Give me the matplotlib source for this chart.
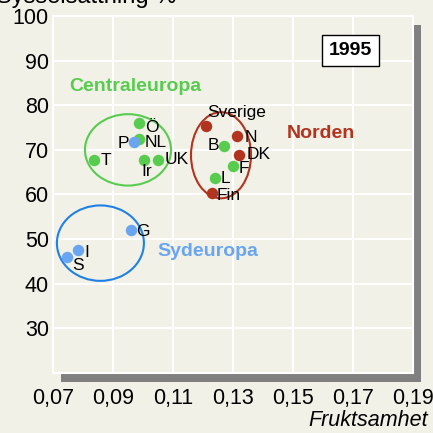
import matplotlib
matplotlib.use("Agg")
import matplotlib.pyplot as plt
from matplotlib.patches import Ellipse, Rectangle

plt.rcParams['font.family'] = ['Liberation Sans', 'DejaVu Sans']

# ---- data ----
central_names = ["Ö", "NL", "T", "Ir", "UK", "B", "F", "L"]
central_x = [0.0987, 0.0987, 0.0837, 0.1003, 0.1050, 0.1270, 0.1300, 0.1240]
central_y = [76.0, 72.4, 67.8, 67.8, 67.8, 70.9, 66.4, 63.8]

norden_names = ["Sverige", "N", "DK", "Fin"]
norden_x = [0.1210, 0.1313, 0.1320, 0.1230]
norden_y = [75.3, 73.1, 68.9, 60.4]

syd_names = ["P", "G", "I", "S"]
syd_x = [0.0970, 0.0960, 0.0784, 0.0748]
syd_y = [71.8, 52.0, 47.5, 46.0]

xticks = [0.07, 0.09, 0.11, 0.13, 0.15, 0.17, 0.19]
xticklabels = ["0,07", "0,09", "0,11", "0,13", "0,15", "0,17", "0,19"]
yticks = [30, 40, 50, 60, 70, 80, 90, 100]

# ellipses: (cx, cy, width, height)
ell_central = (0.0950, 70.0, 0.0287, 16.0)
ell_norden = (0.1260, 68.8, 0.0200, 19.3)
ell_syd = (0.0858, 49.1, 0.0290, 16.9)

# label offsets in pixels (dx, dy up), alignment
label_style = {
    "Ö": (6, -4, 'left'), "NL": (6, -3, 'left'), "T": (7, -1, 'left'),
    "Ir": (3, -12, 'center'), "UK": (7, 0, 'left'), "B": (-5, 0, 'right'),
    "F": (6, -3, 'left'), "L": (6, -1, 'left'),
    "Sverige": (1, 14, 'left'), "N": (8, -1, 'left'), "DK": (8, 0, 'left'),
    "Fin": (5, -3, 'left'),
    "P": (-5, -2, 'right'), "G": (5, -1, 'left'), "I": (6, -2, 'left'),
    "S": (5, -9, 'left'),
}

bg = '#f2f1e7'
green = '#57cc4f'
red = '#b3341e'
blue_pt = '#6aa5f2'
blue_ell = '#1f80e8'

W = H = 433
fig = plt.figure(figsize=(4.33, 4.33), dpi=100, facecolor=bg)
L, R, T, B = 53, 413, 16, 373
ax = fig.add_axes([L / W, 1 - B / H, (R - L) / W, (B - T) / H])
ax.set_facecolor(bg)

# shadow
shadow = Rectangle(((L + 8) / W, 1 - (B + 9) / H), (R - L) / W, (B - T) / H,
                   transform=fig.transFigure, facecolor='#808080',
                   edgecolor='none', zorder=-1)
fig.patches.append(shadow)

ax.set_xlim(0.07, 0.19)
ax.set_ylim(20, 100)
ax.set_xticks(xticks)
ax.set_xticklabels(xticklabels)
ax.set_yticks(yticks)
ax.grid(True, color='white', linewidth=1.5)
ax.set_axisbelow(True)
for s in ax.spines.values():
    s.set_color('white')
    s.set_linewidth(1.5)
ax.tick_params(length=0, labelsize=15.5)
ax.tick_params(axis='x', pad=11)
ax.tick_params(axis='y', pad=3)

for (cx, cy, w, h), col in [(ell_central, green), (ell_norden, red), (ell_syd, blue_ell)]:
    ax.add_patch(Ellipse((cx, cy), w, h, fill=False, edgecolor=col, linewidth=1.5, zorder=2))

ms = 68
ax.scatter(central_x, central_y, s=ms, color=green, zorder=3, linewidths=0)
ax.scatter(norden_x, norden_y, s=ms, color=red, zorder=3, linewidths=0)
ax.scatter(syd_x, syd_y, s=ms, color=blue_pt, zorder=3, linewidths=0)

px2pt = 72 / 100
for names, xs, ys in [(central_names, central_x, central_y),
                      (norden_names, norden_x, norden_y),
                      (syd_names, syd_x, syd_y)]:
    for n, x, y in zip(names, xs, ys):
        dx, dy, ha = label_style[n]
        ax.annotate(n, (x, y), xytext=(dx * px2pt, dy * px2pt),
                    textcoords='offset points', ha=ha, va='center',
                    fontsize=12.5, color='black', zorder=4)

ax.text(0.0753, 84.2, "Centraleuropa", color=green, fontsize=14,
        fontweight='bold', ha='left', va='center')
ax.text(0.148, 73.6, "Norden", color=red, fontsize=14,
        fontweight='bold', ha='left', va='center')
ax.text(0.1047, 47.3, "Sydeuropa", color=blue_pt, fontsize=14,
        fontweight='bold', ha='left', va='center')

ax.text(0.1692, 92.3, "1995", fontsize=14, fontweight='bold', ha='center',
        va='center', bbox=dict(boxstyle='square,pad=0.35', facecolor='white',
                               edgecolor='black', linewidth=1))

fig.text(-4 / W, 1 - 3 / H, "Sysselsättning %", fontsize=17,
         ha='left', va='baseline')
fig.text(428 / W, 1 - 421 / H, "Fruktsamhet", fontsize=15.5, style='italic',
         ha='right', va='center')

fig.savefig("out.png", dpi=100, facecolor=bg)
